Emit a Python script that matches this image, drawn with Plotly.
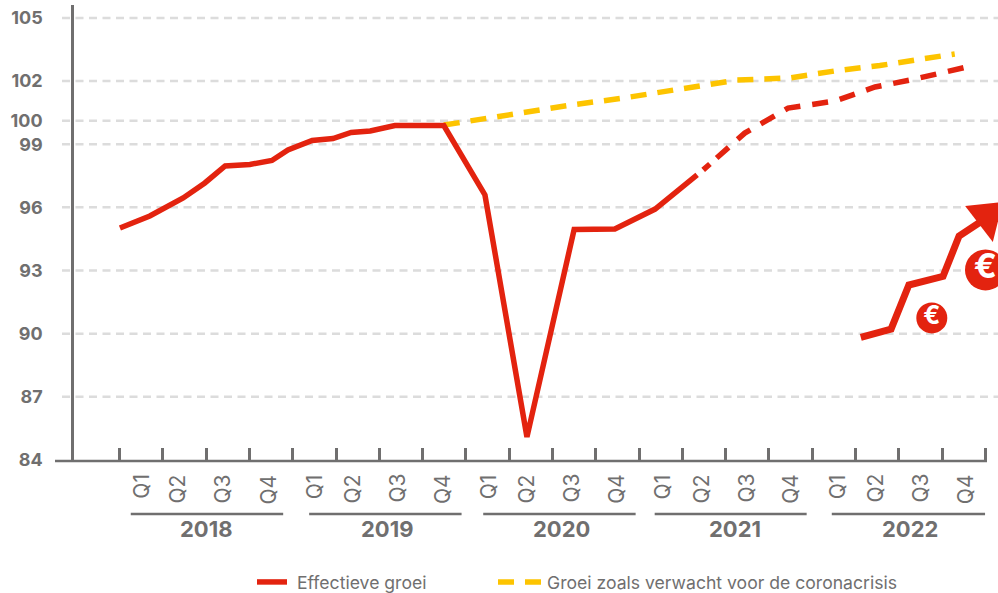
import plotly.graph_objects as go

GREY = "#706f6f"
RED = "#e3230f"
YELLOW = "#fdc400"
GRID = "#dcdcdc"
FONT = "Inter"

# x positions are in quarter-tick units (0 = first tick)
solid_x = [0.01, 0.70, 1.47, 1.97, 2.44, 3.01, 3.52, 3.89, 4.45, 4.93, 5.35, 5.79, 6.36, 6.94, 7.49, 8.44, 9.41, 10.50, 11.44, 12.37, 13.34]
solid_y = [95.02, 95.59, 96.45, 97.16, 97.97, 98.04, 98.23, 98.73, 99.18, 99.27, 99.56, 99.63, 99.89, 99.89, 99.89, 96.59, 85.09, 94.95, 94.97, 95.92, 97.54]
dashed_x = [13.48, 14.44, 15.44, 16.52, 17.45, 18.37, 19.53]
dashed_y = [97.78, 99.53, 100.72, 101.05, 101.72, 102.10, 102.65]
expected_x = [7.49, 8.56, 9.48, 10.52, 11.56, 12.48, 13.40, 14.26, 15.48, 16.52, 17.56, 18.48, 19.29]
expected_y = [99.91, 100.27, 100.56, 100.89, 101.17, 101.48, 101.77, 102.05, 102.15, 102.48, 102.74, 103.00, 103.29]

arrow_x = [17.12, 17.82, 18.23, 19.02, 19.39, 20.10]
arrow_y = [89.82, 90.22, 92.31, 92.72, 94.64, 95.60]
head_x = [19.53, 20.40, 20.17, 19.53]
head_y = [96.07, 96.26, 94.36, 96.07]
euro_x = [18.76, 20.00]
euro_y = [90.75, 93.03]
euro_sizes = [31, 41]
euro_fonts = [25, 34]

y_ticks = [84, 87, 90, 93, 96, 99, 100.11, 102, 105]
y_labels = ["84", "87", "90", "93", "96", "99", "100", "102", "105"]
x_ticks = list(range(21))
quarter_x = [0.50, 1.35, 2.39, 3.44, 4.51, 5.39, 6.41, 7.45, 8.53, 9.41, 10.43, 11.46, 12.55, 13.45, 14.47, 15.48, 16.59, 17.45, 18.49, 19.53]
quarter_labels = ["Q1", "Q2", "Q3", "Q4"] * 5
years = ["2018", "2019", "2020", "2021", "2022"]
year_start = [0.26, 4.38, 8.40, 12.36, 16.45]
year_end = [3.78, 7.90, 11.92, 15.87, 19.99]
year_mid = [2.01, 6.18, 10.20, 14.22, 18.26]

W, H = 998, 593
L, T, B = 74, 5, 132
PW = W - L
PH = H - T - B


def px(x):
    return (x - L) / PW


def py(y):
    return (T + PH - y) / PH


fig = go.Figure()
fig.add_trace(go.Scatter(x=expected_x, y=expected_y, mode="lines", name="Groei zoals verwacht voor de coronacrisis",
                         legend="legend2", line=dict(color=YELLOW, width=5.5, dash="16px,11px")))
fig.add_trace(go.Scatter(x=solid_x, y=solid_y, mode="lines", name="\u00a0Effectieve groei",
                         line=dict(color=RED, width=5.5)))
fig.add_trace(go.Scatter(x=dashed_x, y=dashed_y, mode="lines", showlegend=False,
                         line=dict(color=RED, width=5.5, dash="9px,9px," + ",".join(["16px,12px"] * 12))))
fig.add_trace(go.Scatter(x=arrow_x, y=arrow_y, mode="lines", showlegend=False,
                         line=dict(color=RED, width=7)))
fig.add_trace(go.Scatter(x=head_x, y=head_y, mode="lines", fill="toself", fillcolor=RED, showlegend=False,
                         line=dict(color=RED, width=0)))
for ex, ey, s, f in zip(euro_x, euro_y, euro_sizes, euro_fonts):
    fig.add_trace(go.Scatter(x=[ex], y=[ey], mode="markers+text", text=["€"], textposition="middle center",
                             textfont=dict(family=FONT, color="white", size=f, weight="bold"), showlegend=False,
                             marker=dict(color=RED, size=s, line=dict(width=0))))

shapes = []
for t in y_ticks[1:]:
    shapes.append(dict(type="line", xref="paper", yref="y", x0=px(62), x1=1, y0=t, y1=t, layer="below",
                       line=dict(color=GRID, width=2.5, dash="8px,5.5px")))
shapes.append(dict(type="line", xref="paper", yref="paper", x0=px(55), x1=px(987), y0=0, y1=0,
                   line=dict(color=GREY, width=2.5)))
for a, b in zip(year_start, year_end):
    shapes.append(dict(type="line", xref="x", yref="paper", x0=a, x1=b, y0=py(514), y1=py(514),
                       line=dict(color=GREY, width=2.5)))

annotations = []
for x, q in zip(quarter_x, quarter_labels):
    annotations.append(dict(x=x, xref="x", y=py(472), yref="paper", text=q, textangle=-90, showarrow=False,
                            xanchor="center", yanchor="top", font=dict(family=FONT, size=21, color=GREY)))
for x, yr in zip(year_mid, years):
    annotations.append(dict(x=x, xref="x", y=py(529), yref="paper", text=yr, showarrow=False,
                            xanchor="center", yanchor="middle",
                            font=dict(family=FONT, size=22, color=GREY, weight="bold")))

legend_font = dict(family=FONT, size=17.6, color=GREY)
fig.update_layout(
    width=W, height=H, autosize=False,
    margin=dict(l=L, r=0, t=T, b=B),
    paper_bgcolor="white", plot_bgcolor="white",
    shapes=shapes, annotations=annotations,
    legend=dict(orientation="h", xref="container", yref="container", x=252 / W, xanchor="left",
                y=(H - 582) / H, yanchor="middle",
                itemwidth=30, font=legend_font, bgcolor="rgba(0,0,0,0)"),
    legend2=dict(orientation="h", xref="container", yref="container", x=493 / W, xanchor="left",
                 y=(H - 582) / H, yanchor="middle",
                 itemwidth=44, font=legend_font, bgcolor="rgba(0,0,0,0)"),
    xaxis=dict(range=[-1.051, 20.289], tickmode="array", tickvals=x_ticks, ticktext=[""] * 21,
               ticks="inside", ticklen=13, tickwidth=2.5, tickcolor=GREY, showgrid=False,
               showline=False, zeroline=False),
    yaxis=dict(range=[83.95, 105.615], tickmode="array", tickvals=y_ticks, ticktext=y_labels,
               showline=True, linecolor=GREY, linewidth=2.5, showgrid=False, zeroline=False,
               ticks="", ticklabelstandoff=25,
               tickfont=dict(family=FONT, size=18, color=GREY, weight="bold")),
)

fig.write_html("out.html", config={"displayModeBar": False},
               post_script="document.body.style.margin='0';document.documentElement.style.overflow='hidden';")
